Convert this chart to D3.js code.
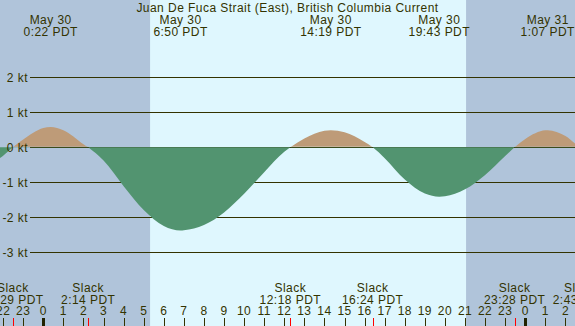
<!DOCTYPE html>
<html>
<head>
<meta charset="utf-8">
<script src="https://cdn.jsdelivr.net/npm/d3@7"></script>
<style>
  body { margin: 0; padding: 0; background: #fff; }
  svg { display: block; font-family: "Liberation Sans", Arial, sans-serif; font-size: 12px; letter-spacing: 0.45px; }
</style>
</head>
<body>
<svg width="575" height="326"></svg>
<script>
// hours since May 30 0:00 PDT
var times  = [-3, -2, -1.517, -1, 0, 0.367, 1, 2, 2.233, 3, 4, 5, 6, 6.833, 7, 8, 9, 10, 11, 12, 12.3,
              13, 14, 14.317, 15, 16, 16.4, 17, 18, 19, 19.717, 20, 21, 22, 23, 23.467,
              24, 25, 25.117, 26, 26.717, 27];
var speeds = [-0.62, -0.24, 0, 0.22, 0.55, 0.58, 0.49, 0.09, 0, -0.38, -1.11, -1.79, -2.25, -2.38, -2.37, -2.22, -1.86, -1.33, -0.71, -0.13, 0,
              0.25, 0.475, 0.49, 0.43, 0.15, 0, -0.31, -0.92, -1.32, -1.41, -1.40, -1.20, -0.79, -0.25, 0,
              0.24, 0.487, 0.49, 0.32, 0, -0.1];

var maxTimes  = [0.367, 6.833, 14.317, 19.717, 25.117];
var maxDates  = ['May 30', 'May 30', 'May 30', 'May 30', 'May 31'];
var maxLabels = ['0:22 PDT', '6:50 PDT', '14:19 PDT', '19:43 PDT', '1:07 PDT'];

var slackTimes  = [-1.517, 2.233, 12.3, 16.4, 23.467, 26.717];
var slackLabels = ['22:29 PDT', '2:14 PDT', '12:18 PDT', '16:24 PDT', '23:28 PDT', '2:43 PDT'];

var sunrise = 5.317;
var sunset = 21.05;

var ktTicks = [2, 1, 0, -1, -2, -3];
var hourTicks = d3.range(-2, 27);

var title = 'Juan De Fuca Strait (East), British Columbia Current';

var W = 575, H = 326;
var ink = '#333300';

var x = d3.scaleLinear().domain([0, 24]).range([43.3, 525.3]);
var y = d3.scaleLinear().domain([0, 1]).range([147.3, 112.3]);

var svg = d3.select('svg');

// night / day background
svg.append('rect').attr('x', 0).attr('y', 0).attr('width', W).attr('height', H).attr('fill', '#b0c4da');
svg.append('rect')
  .attr('x', x(sunrise)).attr('y', 0)
  .attr('width', x(sunset) - x(sunrise)).attr('height', H)
  .attr('fill', '#dff7fe');

// grid lines
svg.selectAll('line.grid').data(ktTicks).enter()
  .append('line')
  .attr('class', 'grid')
  .attr('x1', 30).attr('x2', W)
  .attr('y1', function(d){ return Math.round(y(d)) + 0.5; })
  .attr('y2', function(d){ return Math.round(y(d)) + 0.5; })
  .attr('stroke', ink).attr('stroke-width', 1);

// current area, split at zero
var pts = times.map(function(t, i){ return [t, speeds[i]]; });
var area = d3.area()
  .curve(d3.curveMonotoneX)
  .x(function(d){ return x(d[0]); })
  .y0(y(0))
  .y1(function(d){ return y(d[1]); });

var defs = svg.append('defs');
defs.append('clipPath').attr('id', 'above')
  .append('rect').attr('x', 0).attr('y', 0).attr('width', W).attr('height', y(0) - 0.5);
defs.append('clipPath').attr('id', 'below')
  .append('rect').attr('x', 0).attr('y', Math.round(y(0))).attr('width', W).attr('height', H);

svg.append('path').attr('d', area(pts)).attr('fill', '#be9b78').attr('clip-path', 'url(#above)');
svg.append('path').attr('d', area(pts)).attr('fill', '#529470').attr('clip-path', 'url(#below)');

// kt labels
svg.selectAll('text.kt').data(ktTicks).enter()
  .append('text')
  .attr('class', 'kt')
  .attr('x', 28)
  .attr('y', function(d){ return y(d) + 4.5; })
  .attr('text-anchor', 'end')
  .attr('fill', ink)
  .text(function(d){ return d + ' kt'; });

// title
svg.append('text')
  .attr('x', W / 2).attr('y', 12)
  .attr('text-anchor', 'middle')
  .attr('fill', ink)
  .text(title);

// max current labels
var mx = svg.selectAll('g.max').data(maxTimes).enter()
  .append('g').attr('class', 'max')
  .attr('transform', function(d){ return 'translate(' + x(d) + ',0)'; });
mx.append('text').attr('y', 23.5).attr('text-anchor', 'middle').attr('fill', ink)
  .text(function(d, i){ return maxDates[i]; });
mx.append('text').attr('y', 35.5).attr('text-anchor', 'middle').attr('fill', ink)
  .text(function(d, i){ return maxLabels[i]; });

// slack labels
var sl = svg.selectAll('g.slack').data(slackTimes).enter()
  .append('g').attr('class', 'slack')
  .attr('transform', function(d){ return 'translate(' + x(d) + ',0)'; });
sl.append('text').attr('y', 291.5).attr('text-anchor', 'middle').attr('fill', ink).text('Slack');
sl.append('text').attr('y', 303.5).attr('text-anchor', 'middle').attr('fill', ink)
  .text(function(d, i){ return slackLabels[i]; });

// hour ticks
svg.selectAll('text.hour').data(hourTicks).enter()
  .append('text')
  .attr('class', 'hour')
  .attr('x', function(d){ return x(d); })
  .attr('y', 315)
  .attr('text-anchor', 'middle')
  .attr('fill', ink)
  .text(function(d){ return ((d % 24) + 24) % 24; });

svg.selectAll('line.hour').data(hourTicks).enter()
  .append('line')
  .attr('class', 'hour')
  .attr('x1', function(d){ return Math.round(x(d)) + 0.5; })
  .attr('x2', function(d){ return Math.round(x(d)) + 0.5; })
  .attr('y1', 318).attr('y2', H)
  .attr('stroke', function(d){ return d % 24 == 0 ? '#222200' : ink; })
  .attr('stroke-width', function(d){ return d % 24 == 0 ? 3 : 1; });

svg.selectAll('line.slack').data(slackTimes).enter()
  .append('line')
  .attr('class', 'slack')
  .attr('x1', function(d){ return Math.round(x(d)) + 0.5; })
  .attr('x2', function(d){ return Math.round(x(d)) + 0.5; })
  .attr('y1', 318).attr('y2', H)
  .attr('stroke', '#ff0000').attr('stroke-width', 1);
</script>
</body>
</html>
